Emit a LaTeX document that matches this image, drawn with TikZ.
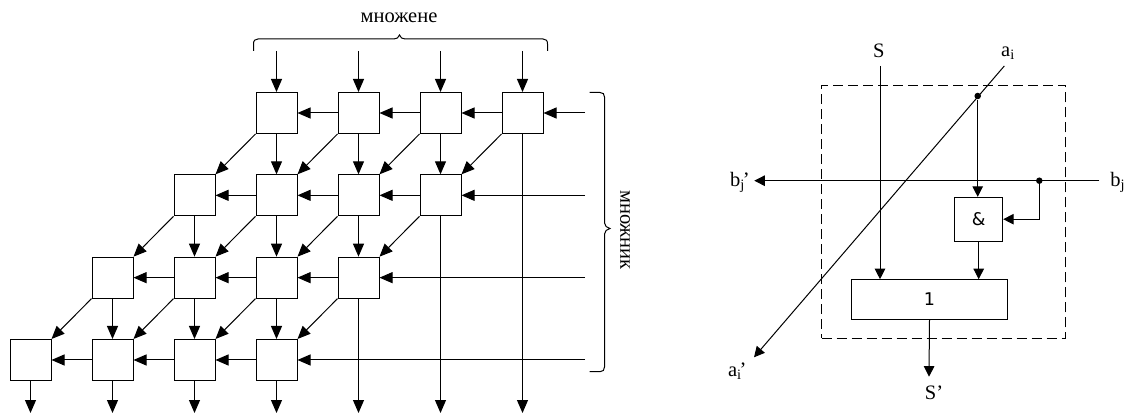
\documentclass[tikz,border=0pt]{standalone}
\usepackage{fontspec}
\setmainfont{Liberation Serif}
\newfontfamily\gatefont{DejaVu Sans}
\usetikzlibrary{arrows.meta}
\tikzset{
  cell/.style={draw,minimum size=41pt,inner sep=0pt},
  gate/.style={draw,inner sep=0pt,font=\gatefont\fontsize{17.5}{20}\selectfont},
  wire/.style={-{Triangle[length=13pt,width=11pt]}},
  wiresmall/.style={-{Triangle[length=10.5pt,width=10.5pt]}},
  dotnode/.style={circle,fill,inner sep=0pt,minimum size=6.5pt},
  lab/.style={font=\fontsize{20.5}{24}\selectfont,inner sep=0pt}
}
\begin{document}
\begin{tikzpicture}[x=1pt,y=-1pt,line width=1pt]
\useasboundingbox (0,0) rectangle (1125,414);

% multiplier array
\foreach \r in {1,...,4}{
  \pgfmathtruncatemacro\first{5-\r}
  \pgfmathtruncatemacro\last{8-\r}
  \foreach \c in {\first,...,\last}{
    \node[cell] (cell-\r-\c) at ({30.5+82*(\c-1)},{113+82.33*(\r-1)}) {};
  }
}
% top inputs
\foreach \c in {4,...,7}{
  \coordinate (top-\c) at (cell-1-\c |- 0,51);
  \draw[wire] (top-\c) -- (cell-1-\c.north);
}
% right inputs
\foreach \r/\c in {1/7,2/6,3/5,4/4}{
  \coordinate (in-\r) at (585,0 |- cell-\r-\c);
  \draw[wire] (in-\r) -- (cell-\r-\c.east);
}
% horizontal
\foreach \r/\c/\n in {1/7/6,1/6/5,1/5/4,2/6/5,2/5/4,2/4/3,3/5/4,3/4/3,3/3/2,4/4/3,4/3/2,4/2/1}{
  \draw[wire] (cell-\r-\c.west) -- (cell-\r-\n.east);
}
% vertical
\foreach \r/\n/\c in {1/2/4,1/2/5,1/2/6,2/3/3,2/3/4,2/3/5,3/4/2,3/4/3,3/4/4}{
  \draw[wire] (cell-\r-\c.south) -- (cell-\n-\c.north);
}
% diagonal
\foreach \r/\n/\c/\d in {1/2/7/6,1/2/6/5,1/2/5/4,1/2/4/3,2/3/6/5,2/3/5/4,2/3/4/3,2/3/3/2,3/4/5/4,3/4/4/3,3/4/3/2,3/4/2/1}{
  \draw[wire] (cell-\r-\c.south west) -- (cell-\n-\d.north east);
}
% outputs
\foreach \r/\c in {4/1,4/2,4/3,4/4,3/5,2/6,1/7}{
  \coordinate (out-\c) at (cell-\r-\c |- 0,413);
  \draw[wire] (cell-\r-\c.south) -- (out-\c);
}

% braces
\draw (253.5,51) -- (253.5,44) .. controls (253.5,40.5) and (255,39) .. (258,39)
  -- (394,39) .. controls (397,39) and (398.5,37.5) .. (399.5,35)
  .. controls (400.5,37.5) and (402,39) .. (405,39)
  -- (543,39) .. controls (546,39) and (547.5,40.5) .. (547.5,44) -- (547.5,51);
\draw (589.5,92.5) -- (600,92.5) .. controls (603,92.5) and (604.5,94) .. (604.5,97)
  -- (604.5,223) .. controls (604.5,226) and (607,227.5) .. (610,228.5)
  .. controls (607,229.5) and (604.5,231) .. (604.5,234)
  -- (604.5,367) .. controls (604.5,370) and (603,371.7) .. (600,371.7) -- (589.5,371.7);
\node[lab] (mcand) at (399,18) {множене};
\node[lab,rotate=-90] (mplier) at (625,230) {множник};

% single cell
\node[draw,dash pattern=on 10pt off 5pt,minimum width=244pt,minimum height=253pt,inner sep=0pt] (frame) at (943.7,211.8) {};
\node[gate,minimum width=48pt,minimum height=43.7pt] (and) at (978.7,219.2) {\&};
\node[gate,minimum width=156.4pt,minimum height=39.6pt] (or) at (929.5,299.5) {1};
\node[lab] (sin) at (878.7,51) {S};
\node[lab] (sout) at (934,393) {S’};
\node[lab] (ain) at (1008,53) {a\textsubscript{i}};
\node[lab] (aout) at (737.3,371) {a\textsubscript{i}\kern-2pt’};
\node[lab] (bin) at (1117.7,182) {b\textsubscript{j}};
\node[lab] (bout) at (740,182) {b\textsubscript{j}\kern-2pt’};
\coordinate (stop) at (880,66);
\coordinate (atop) at (1004.3,66);
\coordinate (abot) at (754,357.3);
\coordinate (bright) at (1099.3,180.7);
\coordinate (bleft) at (754.3,180.7);
\coordinate (send) at (929,376.7);
\node[dotnode] (adot) at (977.7,96) {};
\node[dotnode] (bdot) at (1039.3,180.7) {};

\draw[wiresmall] (atop) -- (abot);
\draw[wiresmall] (bright) -- (bleft);
\draw[wiresmall] (stop) -- (stop |- or.north);
\draw[wiresmall] (adot) -- (adot |- and.north);
\draw[wiresmall] (bdot) |- (and.east);
\draw[wiresmall] (and.south) -- (and.south |- or.north);
\draw[wiresmall] (or.south) -- (send);
\end{tikzpicture}
\end{document}
